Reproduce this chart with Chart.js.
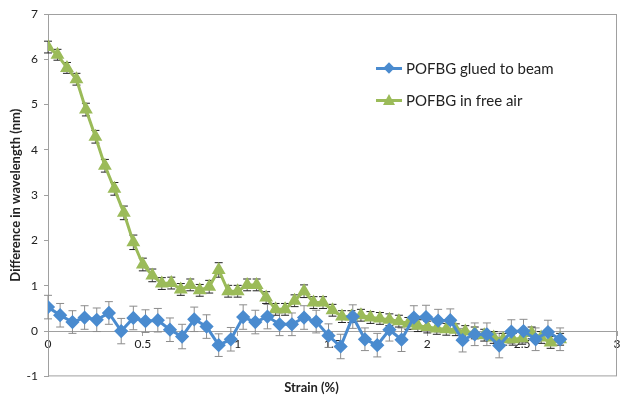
<!DOCTYPE html>
<html>
<head>
<meta charset="utf-8">
<script src="https://cdn.jsdelivr.net/npm/chart.js@4"></script>
<style>
body{margin:0;background:#fff;}
#wrap{position:relative;width:625px;height:397px;}
#legend{position:absolute;left:374px;top:56px;font-family:Lato,"Open Sans",sans-serif;font-size:15px;color:#222;}
#legend .row{display:flex;align-items:center;height:24px;margin-bottom:8px;}
#legend .sym{position:relative;width:30px;height:24px;margin-right:2px;}
#legend .ln{position:absolute;left:2px;right:2px;top:11px;height:3px;}
#legend .dia{position:absolute;left:11px;top:8px;width:8px;height:8px;transform:rotate(45deg);}
#legend .tri{position:absolute;left:9px;top:6px;width:0;height:0;border-left:6px solid transparent;border-right:6px solid transparent;border-bottom:11px solid #9bbb59;}
</style>
</head>
<body>
<div id="wrap">
<canvas id="myChart"></canvas>
<div id="legend">
  <div class="row"><span class="sym"><span class="ln" style="background:#4a8bcf"></span><span class="dia" style="background:#4a8bcf"></span></span>POFBG glued to beam</div>
  <div class="row"><span class="sym"><span class="ln" style="background:#9bbb59"></span><span class="tri"></span></span>POFBG in free air</div>
</div>
</div>
<script>
// 应变 (%)
var blueX = [0, 0.064, 0.129, 0.193, 0.257, 0.321, 0.386, 0.45, 0.514, 0.579, 0.643, 0.707, 0.771, 0.836, 0.9,
    0.964, 1.029, 1.093, 1.157, 1.221, 1.286, 1.35, 1.414, 1.479, 1.543, 1.607, 1.671, 1.736, 1.8, 1.864,
    1.929, 1.993, 2.057, 2.121, 2.186, 2.25, 2.314, 2.379, 2.443, 2.507, 2.571, 2.636, 2.7];
var blueY = [0.53, 0.35, 0.2, 0.3, 0.25, 0.4, 0.0, 0.29, 0.22, 0.24, 0.03, -0.12, 0.26, 0.1, -0.31,
    -0.18, 0.31, 0.2, 0.32, 0.15, 0.15, 0.3, 0.21, -0.1, -0.34, 0.32, -0.18, -0.31, 0.03, -0.19,
    0.3, 0.31, 0.23, 0.24, -0.2, -0.07, -0.07, -0.32, -0.01, 0.0, -0.18, -0.02, -0.18];
var blueErr = [0.26, 0.26, 0.25, 0.26, 0.26, 0.25, 0.28, 0.26, 0.25, 0.26, 0.26, 0.27, 0.27, 0.26, 0.25,
    0.26, 0.27, 0.26, 0.27, 0.25, 0.25, 0.26, 0.25, 0.26, 0.27, 0.26, 0.25, 0.26, 0.25, 0.26,
    0.26, 0.26, 0.25, 0.25, 0.26, 0.25, 0.25, 0.27, 0.26, 0.26, 0.25, 0.26, 0.25];

var greenX = [0, 0.05, 0.1, 0.15, 0.2, 0.25, 0.3, 0.35, 0.4, 0.45, 0.5, 0.55, 0.6, 0.65, 0.7,
    0.75, 0.8, 0.85, 0.9, 0.95, 1, 1.05, 1.1, 1.15, 1.2, 1.25, 1.3, 1.35, 1.4, 1.45,
    1.5, 1.55, 1.6, 1.65, 1.7, 1.75, 1.8, 1.85, 1.9, 1.95, 2, 2.05, 2.1, 2.15, 2.2,
    2.25, 2.3, 2.35, 2.4, 2.45, 2.5, 2.55, 2.6, 2.65, 2.7];
var greenY = [6.27, 6.1, 5.81, 5.56, 4.89, 4.29, 3.65, 3.14, 2.61, 1.96, 1.47, 1.23, 1.05, 1.06, 0.92,
    1.02, 0.9, 0.98, 1.35, 0.88, 0.88, 1.02, 1.02, 0.74, 0.48, 0.48, 0.67, 0.88, 0.63, 0.63,
    0.46, 0.32, 0.32, 0.35, 0.3, 0.28, 0.25, 0.22, 0.17, 0.12, 0.09, 0.06, 0.04, 0.03, -0.01,
    -0.04, -0.09, -0.14, -0.18, -0.18, -0.16, -0.04, -0.14, -0.25, -0.18];
var greenErr = [0.13, 0.12, 0.12, 0.13, 0.14, 0.14, 0.14, 0.14, 0.15, 0.16, 0.14, 0.14, 0.13, 0.13, 0.13,
    0.13, 0.13, 0.14, 0.16, 0.13, 0.13, 0.13, 0.13, 0.13, 0.13, 0.13, 0.13, 0.14, 0.13, 0.13,
    0.13, 0.13, 0.13, 0.13, 0.13, 0.13, 0.13, 0.13, 0.13, 0.13, 0.13, 0.13, 0.13, 0.13, 0.13,
    0.13, 0.13, 0.13, 0.13, 0.13, 0.13, 0.13, 0.13, 0.13, 0.13];

var xTicks = [0, 0.5, 1, 1.5, 2, 2.5, 3];

function toPoints(xs, ys){
    var arr = [];
    for(var i=0;i<xs.length;i++){
        arr.push({x: xs[i], y: ys[i]});
    }
    return arr;
}

// 误差线
var errorBars = {
    id: 'errorBars',
    beforeDatasetsDraw: function(chart){
        var ctx = chart.ctx;
        var xs = chart.scales.x, ys = chart.scales.y;
        var sets = [
            {x: blueX, y: blueY, e: blueErr, color: '#8c8c8c', cap: '#8c8c8c'},
            {x: greenX, y: greenY, e: greenErr, color: '#555', cap: '#222'}
        ];
        ctx.save();
        sets.forEach(function(s){
            for(var i=0;i<s.x.length;i++){
                var px = xs.getPixelForValue(s.x[i]);
                var top = ys.getPixelForValue(s.y[i] + s.e[i]);
                var bot = ys.getPixelForValue(s.y[i] - s.e[i]);
                ctx.strokeStyle = s.color;
                ctx.lineWidth = 1;
                ctx.beginPath();
                ctx.moveTo(px, top); ctx.lineTo(px, bot);
                ctx.stroke();
                ctx.strokeStyle = s.cap;
                ctx.beginPath();
                ctx.moveTo(px-4, top); ctx.lineTo(px+4, top);
                ctx.moveTo(px-4, bot); ctx.lineTo(px+4, bot);
                ctx.stroke();
            }
        });
        ctx.restore();
    }
};

// 图框
var frame = {
    id: 'frame',
    beforeDatasetsDraw: function(chart){
        var a = chart.chartArea, ctx = chart.ctx;
        ctx.save();
        ctx.strokeStyle = '#a0a0a0';
        ctx.lineWidth = 1;
        ctx.strokeRect(a.left+0.5, a.top+0.5, a.right-a.left-1, a.bottom-a.top-1);
        ctx.restore();
    }
};

new Chart(document.getElementById('myChart'), {
    type: 'scatter',
    data: {
        datasets: [{
            label: 'POFBG glued to beam',
            data: toPoints(blueX, blueY),
            showLine: true,
            borderColor: '#4a8bcf',
            backgroundColor: '#4a8bcf',
            borderWidth: 3,
            pointStyle: 'rectRot',
            pointRadius: 5,
            pointHoverRadius: 5
        }, {
            label: 'POFBG in free air',
            data: toPoints(greenX, greenY),
            showLine: true,
            borderColor: '#9bbb59',
            backgroundColor: '#9bbb59',
            borderWidth: 3,
            pointStyle: 'triangle',
            pointRadius: 5,
            pointHoverRadius: 5
        }]
    },
    options: {
        responsive: true,
        maintainAspectRatio: false,
        animation: false,
        layout: {padding: {top: 14, right: 2, left: 0, bottom: 0}},
        plugins: {
            legend: {display: false},
            tooltip: {enabled: false},
            title: {
                display: true,
                position: 'bottom',
                text: 'Strain (%)',
                color: '#222',
                font: {family: 'Lato', size: 13, weight: 'bold'},
                padding: {top: 4, bottom: 1}
            }
        },
        scales: {
            x: {
                type: 'linear',
                min: 0,
                max: 3,
                position: {y: 0},
                afterBuildTicks: function(scale){
                    scale.ticks = xTicks.map(function(v){ return {value: v}; });
                },
                ticks: {
                    color: '#222', font: {family: 'Lato', size: 12}, padding: 2, maxRotation: 0,
                    callback: function(v){ return String(v); }
                },
                grid: {drawOnChartArea: false, tickLength: 4, color: '#a0a0a0'},
                border: {color: '#a0a0a0'}
            },
            y: {
                min: -1,
                max: 7,
                ticks: {stepSize: 1, color: '#222', font: {family: 'Lato', size: 12}, padding: 6},
                grid: {drawOnChartArea: false, tickLength: 4, color: '#a0a0a0'},
                border: {color: '#a0a0a0'},
                title: {
                    display: true,
                    text: 'Difference in wavelength (nm)',
                    color: '#222',
                    font: {family: 'Lato', size: 13, weight: 'bold'},
                    padding: {top: 8, bottom: 0}
                },
                afterFit: function(scale){ scale.width = 48; }
            }
        }
    },
    plugins: [frame, errorBars]
});
</script>
</body>
</html>
